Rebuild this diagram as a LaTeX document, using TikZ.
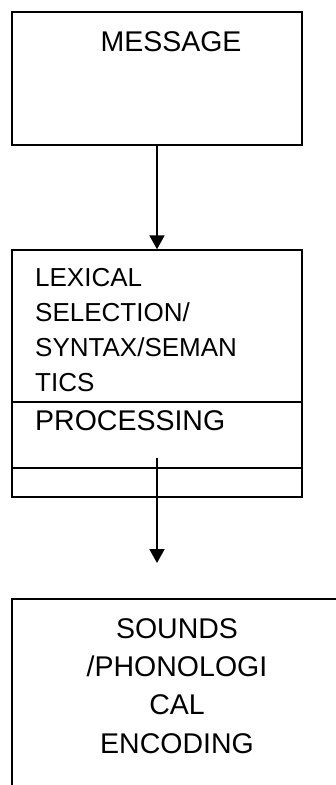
\documentclass[tikz,border=0pt]{standalone}
\usepackage{fontspec}
\setmainfont{Liberation Sans}
\usetikzlibrary{arrows.meta}
\begin{document}
\begin{tikzpicture}[x = 1pt, y = -1pt,
    box/.style = {draw, line width = 1.5pt, inner sep = 0},
    rule/.style = {line width = 1.5pt},
    biglabel/.style = {inner sep = 0, font = \fontsize{28.5}{38.3}\selectfont},
    smalllabel/.style = {inner sep = 0, font = \fontsize{26}{35}\selectfont},
    flow/.style = {line width = 2pt, -{Triangle[length = 14pt, width = 15pt]}}]
    \clip (0, 0) rectangle (336, 785);

    % message
    \node [box, line width = 1.2pt, minimum width = 290pt, minimum height = 133pt] (message) at (157, 78.5) {};
    \node [biglabel, anchor = base] (msgtext) at (171, 51) {MESSAGE};

    % lexical selection
    \node [box, minimum width = 290pt, minimum height = 247pt] (lexical) at (157, 373.5) {};
    \node [smalllabel, anchor = base west, align = left] (lextext) at (35, 391)
        {LEXICAL\\SELECTION/\\SYNTAX/SEMAN\\TICS};
    \draw [rule] (lexical.west |- 0, 402) -- (lexical.east |- 0, 402);
    \node [biglabel, anchor = base west] (proctext) at (35, 430) {PROCESSING};
    \draw [rule] (lexical.west |- 0, 468) -- (lexical.east |- 0, 468);

    % sounds
    \node [box, minimum width = 330pt, minimum height = 302pt] (sounds) at (177, 750) {};
    \node [biglabel, anchor = base, align = center] (soundtext) at (177, 753)
        {SOUNDS\\/PHONOLOGI\\CAL\\ENCODING};

    % arrows
    \coordinate (from) at (157, 458);
    \coordinate (to) at (157, 563);
    \draw [flow] (message.south) -- (lexical.north);
    \draw [flow] (from) -- (to);
\end{tikzpicture}
\end{document}
